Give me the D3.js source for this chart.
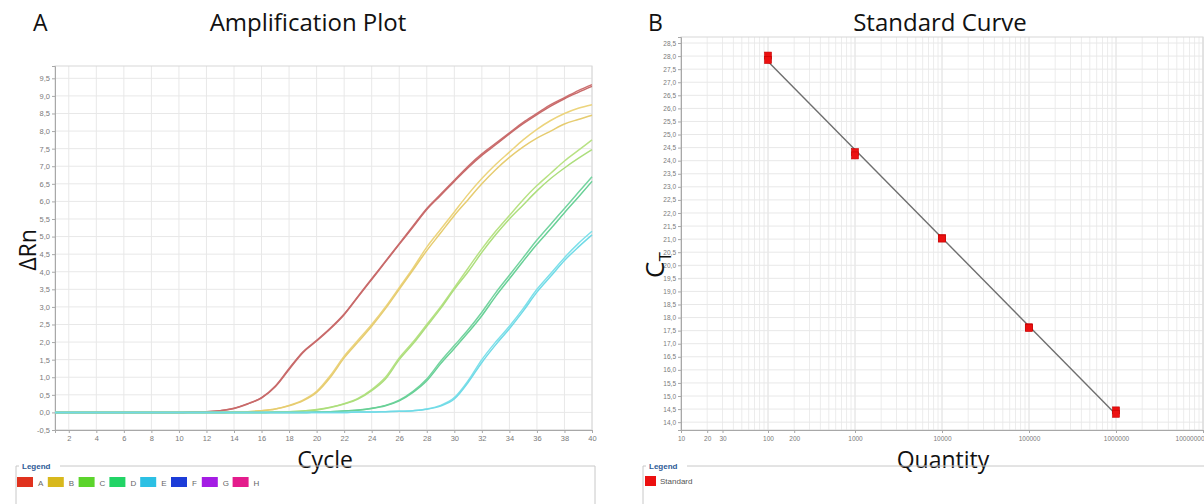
<!DOCTYPE html>
<html><head><meta charset="utf-8">
<script src="https://cdn.jsdelivr.net/npm/d3@7"></script>
<style>body{margin:0;background:#fff} svg{display:block}</style>
</head><body><svg id="c" width="1204" height="504"></svg>
<script>
// ---------- Data: Amplification plot ----------
const cycles = [1,2,3,4,5,6,7,8,9,10,11,12,13,14,15,16,17,18,19,20,21,22,23,24,25,26,27,28,29,30,31,32,33,34,35,36,37,38,39,40];
const A1 = [0,0,0,0,0,0,0,0,0,0, 0.01,0.02,0.05,0.12,0.25,0.42,0.75,1.25,1.72,2.05, 2.4,2.8,3.3,3.8,4.3,4.8,5.3,5.8,6.2,6.6, 7.0,7.35,7.65,7.95,8.25,8.5,8.75,8.95,9.15,9.32];
const A2 = [0,0,0,0,0,0,0,0,0,0, 0.01,0.02,0.05,0.11,0.24,0.41,0.73,1.22,1.7,2.03, 2.38,2.78,3.28,3.78,4.28,4.78,5.27,5.77,6.17,6.57, 6.96,7.31,7.61,7.92,8.21,8.47,8.71,8.92,9.1,9.27];
const B1 = [0,0,0,0,0,0,0,0,0,0, 0,0,0,0.01,0.02,0.05,0.1,0.2,0.35,0.6, 1.05,1.6,2.05,2.5,3.0,3.55,4.1,4.7,5.2,5.7, 6.2,6.65,7.05,7.4,7.75,8.05,8.3,8.5,8.65,8.75];
const B2 = [0,0,0,0,0,0,0,0,0,0, 0,0,0,0.01,0.02,0.05,0.1,0.19,0.33,0.57, 1.0,1.55,2.0,2.45,2.95,3.5,4.05,4.6,5.1,5.6, 6.05,6.5,6.9,7.25,7.55,7.8,8.0,8.2,8.33,8.45];
const C1 = [0,0,0,0,0,0,0,0,0,0, 0,0,0,0,0,0,0.01,0.02,0.04,0.08, 0.15,0.25,0.4,0.65,1.0,1.55,2.0,2.5,3.0,3.55, 4.1,4.65,5.15,5.6,6.05,6.45,6.8,7.15,7.45,7.75];
const C2 = [0,0,0,0,0,0,0,0,0,0, 0,0,0,0,0,0,0.01,0.02,0.04,0.07, 0.14,0.24,0.38,0.62,0.95,1.5,1.95,2.45,2.95,3.5, 4.0,4.55,5.05,5.5,5.9,6.3,6.65,6.95,7.22,7.47];
const D1 = [0,0,0,0,0,0,0,0,0,0, 0,0,0,0,0,0,0,0,0,0.01, 0.02,0.04,0.07,0.12,0.2,0.35,0.6,0.95,1.45,1.9, 2.35,2.85,3.4,3.9,4.4,4.9,5.35,5.8,6.25,6.7];
const D2 = [0,0,0,0,0,0,0,0,0,0, 0,0,0,0,0,0,0,0,0,0.01, 0.02,0.04,0.06,0.11,0.19,0.33,0.57,0.9,1.38,1.82, 2.27,2.75,3.3,3.8,4.3,4.78,5.22,5.68,6.12,6.57];
const E1 = [0,0,0,0,0,0,0,0,0,0, 0,0,0,0,0,0,0,0,0,0, 0,0,0.01,0.01,0.02,0.03,0.05,0.1,0.2,0.42, 0.9,1.5,2.0,2.45,2.95,3.5,3.95,4.4,4.8,5.15];
const E2 = [0,0,0,0,0,0,0,0,0,0, 0,0,0,0,0,0,0,0,0,0, 0,0,0.01,0.01,0.02,0.03,0.05,0.09,0.18,0.38, 0.85,1.42,1.92,2.38,2.88,3.42,3.87,4.32,4.7,5.05];
const ampSeries = [A1,A2,B1,B2,C1,C2,D1,D2,E1,E2];
const ampColors = ["#cc7070","#c86a6a","#ecd47c","#e6cc70","#b8e284","#acde7c","#74d4a0","#68d096","#7ee0ea","#70dae6"];
const ampYTicks = [-0.5,0,0.5,1,1.5,2,2.5,3,3.5,4,4.5,5,5.5,6,6.5,7,7.5,8,8.5,9,9.5];
const ampXTicks = [2,4,6,8,10,12,14,16,18,20,22,24,26,28,30,32,34,36,38,40];
const legendNames = ["A","B","C","D","E","F","G","H"];
const legendColors = ["#e0321e","#d8b81c","#5cd42c","#22d466","#2cc0e4","#1c3cd8","#a41ce4","#e41c8c"];

// ---------- Data: Standard curve ----------
const quantities = [100,100,1000,1000,10000,10000,100000,100000,1000000,1000000];
const ctValues = [28.02,27.85,24.33,24.2,21.04,21.02,17.63,17.6,14.45,14.32];
const stdXTicks = [10,20,30,100,200,1000,10000,100000,1000000,10000000];
const stdYTicks = [14,14.5,15,15.5,16,16.5,17,17.5,18,18.5,19,19.5,20,20.5,21,21.5,22,22.5,23,23.5,24,24.5,25,25.5,26,26.5,27,27.5,28,28.5];

const svg = d3.select("#c");
const fmt = v => d3.format(".1f")(v).replace(".", ",").replace("−","-");
const tickFont = "Liberation Sans, Arial, sans-serif";
const bigFont = "Open Sans, sans-serif";

// ================= Left: Amplification Plot =================
const xA = d3.scaleLinear().domain([1,40]).range([55,592]);
const yA = d3.scaleLinear().domain([-0.5,9.85]).range([430,66]);

const gA = svg.append("g");
gA.append("g").selectAll("line").data(ampXTicks).join("line")
  .attr("x1", d=>xA(d)).attr("x2", d=>xA(d)).attr("y1", yA.range()[1]).attr("y2", yA.range()[0])
  .attr("stroke","#e8e8e8").attr("stroke-width",1);
gA.append("g").selectAll("line").data(ampYTicks).join("line")
  .attr("x1", xA.range()[0]).attr("x2", xA.range()[1]).attr("y1", d=>yA(d)).attr("y2", d=>yA(d))
  .attr("stroke","#e8e8e8").attr("stroke-width",1);
gA.append("rect").attr("x",55).attr("y",66).attr("width",537).attr("height",364)
  .attr("fill","none").attr("stroke","#d8d8d8");
const axYA = d3.axisLeft(yA).tickValues(ampYTicks).tickFormat(fmt).tickSize(3).tickPadding(2);
const axXA = d3.axisBottom(xA).tickValues(ampXTicks).tickFormat(d3.format("d")).tickSize(3).tickPadding(3);
const gyA = gA.append("g").attr("transform","translate(55,0)").call(axYA);
const gxA = gA.append("g").attr("transform","translate(0,430)").call(axXA);
[gyA,gxA].forEach(g=>{
  g.select(".domain").attr("stroke","#a8a8a8");
  g.selectAll(".tick line").attr("stroke","#a8a8a8");
  g.selectAll(".tick text").attr("fill","#7a7a7a").style("font-family",tickFont).style("font-size","7.5px");
});
const lineA = d3.line().x((d,i)=>xA(cycles[i])).y(d=>yA(d)).curve(d3.curveMonotoneX);
gA.append("g").selectAll("path").data(ampSeries).join("path")
  .attr("d", d=>lineA(d)).attr("fill","none")
  .attr("stroke",(d,i)=>ampColors[i]).attr("stroke-width",1.5);

// titles
svg.append("text").attr("x",33).attr("y",31).text("A")
  .style("font-family",bigFont).style("font-size","23px").attr("fill","#111");
svg.append("text").attr("x",308).attr("y",31).attr("text-anchor","middle").text("Amplification Plot")
  .style("font-family",bigFont).style("font-size","24px").attr("fill","#111");
svg.append("text").attr("transform","translate(36,250) rotate(-90)").attr("text-anchor","middle").text("ΔRn")
  .style("font-family",bigFont).style("font-size","23px").attr("fill","#111");
svg.append("text").attr("x",325).attr("y",468).attr("text-anchor","middle").text("Cycle")
  .style("font-family",bigFont).style("font-size","23px").attr("fill","#111");

// legend left
const lg = svg.append("g");
lg.append("path").attr("d","M16,504 V466 H19 M60,466 H595 V504").attr("fill","none").attr("stroke","#c8c8c8");
lg.append("text").attr("x",22).attr("y",469).text("Legend")
  .style("font-family",tickFont).style("font-size","8px").style("font-weight","bold").attr("fill","#2c5a96");
const li = lg.selectAll("g.li").data(legendNames).join("g").attr("class","li")
  .attr("transform",(d,i)=>`translate(${17+i*30.8},477)`);
li.append("rect").attr("width",16).attr("height",10).attr("fill",(d,i)=>legendColors[i]);
li.append("text").attr("x",21).attr("y",8.5).text(d=>d)
  .style("font-family",tickFont).style("font-size","8px").attr("fill","#666");

// ================= Right: Standard Curve =================
const xS = d3.scaleLog().domain([10,1e7]).range([681,1203]);
const yS = d3.scaleLinear().domain([13.7,28.73]).range([430,37]);
const gS = svg.append("g");
const minorX = [];
[10,100,1000,10000,100000,1000000].forEach(dec=>{ for(let k=1;k<10;k++) minorX.push(dec*k); });
minorX.push(1e7);
gS.append("g").selectAll("line").data(minorX).join("line")
  .attr("x1", d=>xS(d)).attr("x2", d=>xS(d)).attr("y1",37).attr("y2",430)
  .attr("stroke",d=>("" + d).match(/^10*$/)?"#dcdcdc":"#ececec").attr("stroke-width",1);
gS.append("g").selectAll("line").data(stdYTicks).join("line")
  .attr("x1",681).attr("x2",1203).attr("y1",d=>yS(d)).attr("y2",d=>yS(d))
  .attr("stroke","#e8e8e8");
gS.append("rect").attr("x",681).attr("y",37).attr("width",522).attr("height",393)
  .attr("fill","none").attr("stroke","#d8d8d8");
const axYS = d3.axisLeft(yS).tickValues(stdYTicks).tickFormat(fmt).tickSize(3).tickPadding(2);
const axXS = d3.axisBottom(xS).tickValues(stdXTicks).tickFormat(d3.format("d")).tickSize(3).tickPadding(3);
const gyS = gS.append("g").attr("transform","translate(681,0)").call(axYS);
const gxS = gS.append("g").attr("transform","translate(0,430)").call(axXS);
[gyS,gxS].forEach(g=>{
  g.select(".domain").attr("stroke","#a8a8a8");
  g.selectAll(".tick line").attr("stroke","#a8a8a8");
  g.selectAll(".tick text").attr("fill","#7a7a7a").style("font-family",tickFont).style("font-size","6.5px");
});
gxS.selectAll(".tick text").filter(d=>d===1e7).attr("text-anchor","end").attr("dx","1");
// regression line
const lx = quantities.map(q=>Math.log10(q));
const mx = d3.mean(lx), my = d3.mean(ctValues);
const slope = d3.sum(lx.map((x,i)=>(x-mx)*(ctValues[i]-my))) / d3.sum(lx.map(x=>(x-mx)*(x-mx)));
const icpt = my - slope*mx;
const qMin = d3.min(quantities), qMax = d3.max(quantities);
gS.append("line")
  .attr("x1",xS(qMin)).attr("y1",yS(icpt+slope*Math.log10(qMin)))
  .attr("x2",xS(qMax)).attr("y2",yS(icpt+slope*Math.log10(qMax)))
  .attr("stroke","#6e6e6e").attr("stroke-width",1.4);
gS.append("g").selectAll("rect").data(quantities).join("rect")
  .attr("x",d=>xS(d)-3.5).attr("y",(d,i)=>yS(ctValues[i])-3.5)
  .attr("width",7).attr("height",7).attr("fill","#ec1010").attr("stroke","#c40000").attr("stroke-width",0.6);

// titles
svg.append("text").attr("x",648).attr("y",31).text("B")
  .style("font-family",bigFont).style("font-size","23px").attr("fill","#111");
svg.append("text").attr("x",940).attr("y",31).attr("text-anchor","middle").text("Standard Curve")
  .style("font-family",bigFont).style("font-size","24px").attr("fill","#111");
const ct = svg.append("text").attr("transform","translate(664,278) rotate(-90)")
  .style("font-family",bigFont).attr("fill","#111");
ct.append("tspan").text("C").style("font-size","26px");
ct.append("tspan").text("T").style("font-size","17px").attr("dy",7);
svg.append("text").attr("x",943).attr("y",468).attr("text-anchor","middle").text("Quantity")
  .style("font-family",bigFont).style("font-size","23px").attr("fill","#111");

// legend right
const lr = svg.append("g");
lr.append("path").attr("d","M643,504 V466 H646 M687,466 H1204").attr("fill","none").attr("stroke","#c8c8c8");
lr.append("text").attr("x",649).attr("y",469).text("Legend")
  .style("font-family",tickFont).style("font-size","8px").style("font-weight","bold").attr("fill","#2c5a96");
lr.append("rect").attr("x",645).attr("y",476).attr("width",11).attr("height",10).attr("fill","#ec1010");
lr.append("text").attr("x",660).attr("y",484).text("Standard")
  .style("font-family",tickFont).style("font-size","8px").attr("fill","#555");
</script></body></html>
